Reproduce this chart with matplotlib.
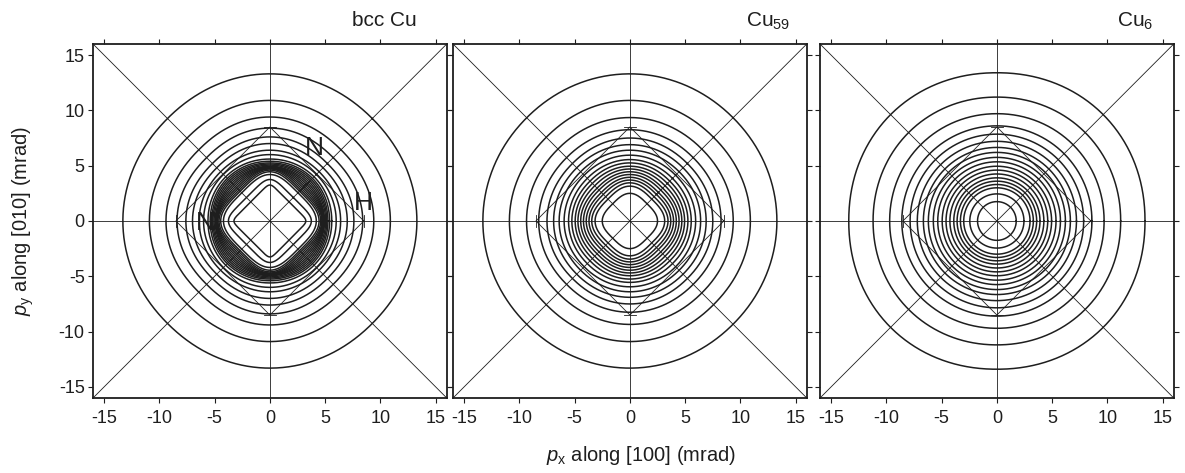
"""Momentum-density contour maps for bcc Cu and the Cu59 / Cu6 clusters."""

import matplotlib.pyplot as plt
import numpy as np

plt.rcParams["font.family"] = ["Liberation Sans", "DejaVu Sans"]
plt.rcParams["mathtext.fontset"] = "custom"
plt.rcParams["mathtext.rm"] = "Liberation Sans"
plt.rcParams["mathtext.it"] = "Liberation Sans:italic"
plt.rcParams["axes.unicode_minus"] = False

LIMIT = 16.0
TICKS = [-15, -10, -5, 0, 5, 10, 15]
ZONE_VERTEX = 8.5  # projected zone boundary vertex (mrad)

PANEL_TITLES = ["bcc Cu", "Cu$_{59}$", "Cu$_{6}$"]

# contour radii (mrad) read along [100] and along [110], outermost first
BCC_AXIS = [13.3, 10.9, 9.4, 8.4, 7.6, 7.0, 6.4, 6.0, 5.6, 5.4, 5.25, 5.15,
            5.05, 4.95, 4.9, 4.85, 4.8, 4.75, 4.7, 4.6, 4.45, 4.2, 3.75, 3.25]
BCC_DIAG = [13.1, 10.6, 9.1, 8.1, 7.35, 6.8, 6.3, 5.95, 5.65, 5.45, 5.3, 5.15,
            5.0, 4.85, 4.7, 4.55, 4.4, 4.25, 4.1, 3.95, 3.8, 3.6, 3.0, 2.45]

CU59_AXIS = [13.3, 10.9, 9.35, 8.25, 7.5, 6.9, 6.4, 5.95, 5.55, 5.25, 4.95,
             4.7, 4.45, 4.2, 3.95, 3.7, 3.45, 3.15, 2.5]
CU59_DIAG = [13.2, 10.7, 9.2, 8.1, 7.35, 6.8, 6.3, 5.85, 5.45, 5.1, 4.8,
             4.5, 4.2, 3.95, 3.65, 3.4, 3.1, 2.8, 2.2]

CU6_AXIS = [13.4, 11.2, 9.7, 8.6, 7.85, 7.2, 6.65, 6.2, 5.75, 5.35, 4.95,
            4.6, 4.25, 3.9, 3.6, 3.3, 3.0, 2.45, 1.75]
CU6_DIAG = [13.6, 11.3, 9.75, 8.6, 7.85, 7.2, 6.65, 6.2, 5.75, 5.35, 4.95,
            4.6, 4.25, 3.9, 3.6, 3.3, 3.0, 2.45, 1.75]

# symmetry-point labels in the bcc panel
POINT_LABELS = ["N", "H", "N"]
POINT_X = [4.0, 8.5, -5.8]
POINT_Y = [6.6, 1.6, -0.2]

INK = "#1e1e1e"


def _contour_curve(r_axis, r_diag, n=900):
    t = np.linspace(0.0, 2.0 * np.pi, n)
    c, s = np.cos(t), np.sin(t)
    if abs(r_axis - r_diag) < 1e-9:
        return r_axis * c, r_axis * s
    if r_diag > r_axis:
        p = 1.0 / (0.5 - np.log2(r_diag / r_axis))
        return (r_axis * np.sign(c) * np.abs(c) ** (2 / p),
                r_axis * np.sign(s) * np.abs(s) ** (2 / p))
    q = 1.0 / (0.5 - np.log2(r_axis / r_diag))
    u = r_diag * np.sign(c) * np.abs(c) ** (2 / q)
    v = r_diag * np.sign(s) * np.abs(s) ** (2 / q)
    return (u - v) / np.sqrt(2), (u + v) / np.sqrt(2)


def _frame(ax):
    thin = dict(color=INK, lw=0.6, zorder=1)
    ax.plot([-LIMIT, LIMIT], [-LIMIT, LIMIT], **thin)
    ax.plot([-LIMIT, LIMIT], [LIMIT, -LIMIT], **thin)
    ax.axhline(0, **thin)
    ax.axvline(0, **thin)
    v = ZONE_VERTEX
    ax.plot([v, 0, -v, 0, v], [0, v, 0, -v, 0], **thin)
    h = 0.55
    for sgn in (1, -1):
        ax.plot([-h, h], [sgn * v, sgn * v], **thin)
        ax.plot([sgn * v, sgn * v], [-h, h], **thin)
    ax.set_xlim(-LIMIT, LIMIT)
    ax.set_ylim(-LIMIT, LIMIT)
    ax.set_xticks(TICKS)
    ax.set_yticks(TICKS)
    ax.tick_params(direction="out", length=3.5, width=0.8, top=True, right=True,
                   labelsize=13, colors=INK)
    ax.tick_params(axis="x", pad=5)
    ax.tick_params(axis="y", pad=2.5)
    for spine in ax.spines.values():
        spine.set_linewidth(1.3)
        spine.set_color(INK)


fig = plt.figure(figsize=(11.85, 4.73), dpi=100, facecolor="white")
lefts = [0.0785, 0.3823, 0.6920]
axes = [fig.add_axes([left, 0.1586, 0.2985, 0.7484]) for left in lefts]
data = [(BCC_AXIS, BCC_DIAG), (CU59_AXIS, CU59_DIAG), (CU6_AXIS, CU6_DIAG)]
title_right = [0.352, 0.667, 0.973]

for idx, (ax, (r_axis, r_diag)) in enumerate(zip(axes, data)):
    _frame(ax)
    for ra, rd in zip(r_axis, r_diag):
        x, y = _contour_curve(ra, rd)
        ax.plot(x, y, color=INK, lw=1.1, zorder=2)
    if idx:
        ax.tick_params(labelleft=False)
    fig.text(title_right[idx], 0.944, PANEL_TITLES[idx], ha="right", va="baseline",
             fontsize=15, color=INK)

for label, x, y in zip(POINT_LABELS, POINT_X, POINT_Y):
    axes[0].text(x, y, label, ha="center", va="center", fontsize=19, color=INK, zorder=3)

axes[0].set_ylabel(r"$\it{p}_\mathrm{y}$ along [010] (mrad)", fontsize=14.5, color=INK,
                   labelpad=16)
fig.text(0.541, 0.038, r"$\it{p}_\mathrm{x}$ along [100] (mrad)", ha="center",
         va="center", fontsize=14.5, color=INK)

fig.savefig("out.png", dpi=100, facecolor="white")
